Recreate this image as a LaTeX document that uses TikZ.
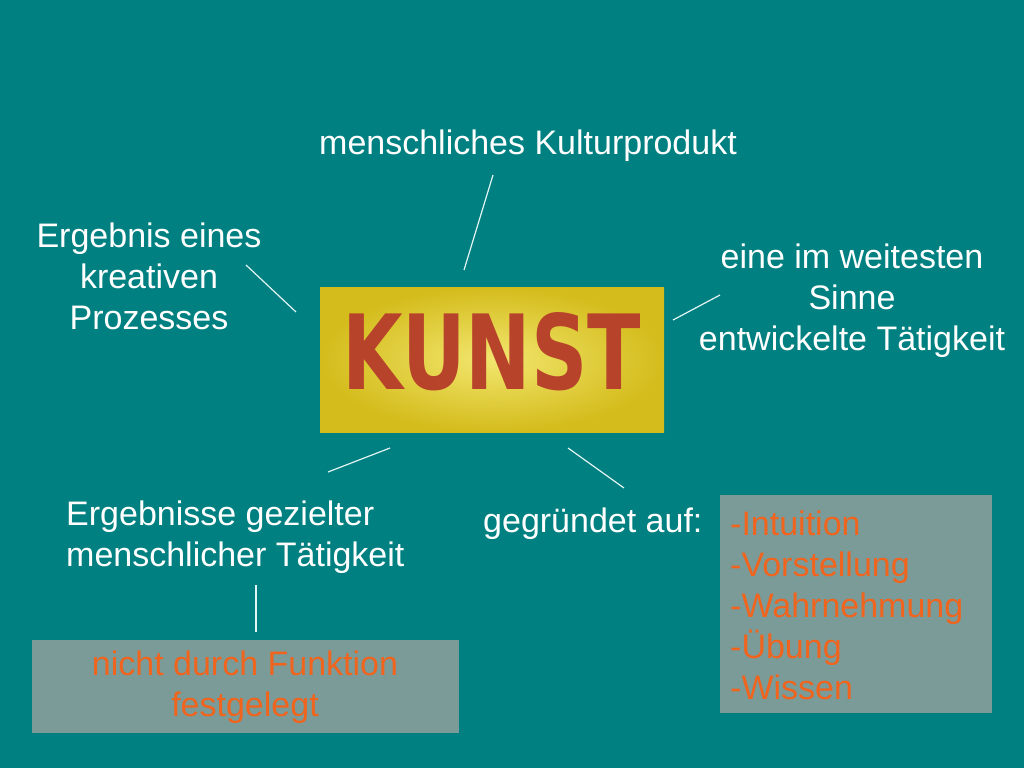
\documentclass[tikz,border=0pt]{standalone}
\usepackage{fontspec}
\setmainfont{Liberation Sans}
\newfontfamily\kunstfont{DejaVu Sans}
\definecolor{bgteal}{HTML}{008080}
\definecolor{boxgray}{HTML}{7B9B98}
\definecolor{orangetxt}{HTML}{F0641E}
\definecolor{brick}{HTML}{B8432B}
\definecolor{goldout}{HTML}{D4BC1C}
\definecolor{goldin}{HTML}{F2E66E}
\definecolor{linecol}{HTML}{E4F4F4}
\begin{document}
\begin{tikzpicture}[x=1pt,y=-1pt,
  lbl/.style={inner sep=0pt,text=white,font=\fontsize{34}{41}\selectfont},
  olbl/.style={inner sep=0pt,text=orangetxt,font=\fontsize{34}{41}\selectfont},
  graybox/.style={fill=boxgray,draw=none,inner sep=0pt,anchor=north west},
  spoke/.style={draw=linecol,line width=1.2pt}]
\fill[bgteal] (0,0) rectangle (1024,768);
\useasboundingbox (0,0) rectangle (1024,768);
% central box
\shade[inner color=goldin,outer color=goldout] (320,287) rectangle (664,432);
\coordinate (kunstc) at (492,352);
\node[inner sep=0pt,text=brick] (kunst) at (kunstc) {\resizebox{298pt}{77pt}{\kunstfont\bfseries KUNST}};
% gray boxes
\node[graybox,minimum width=427pt,minimum height=93pt] (boxl) at (32,640) {};
\node[graybox,minimum width=272pt,minimum height=218pt] (boxr) at (720,495) {};
% texts
\node[lbl] (top) at (528,146) {menschliches Kulturprodukt};
\node[lbl,align=center] (left) at (149,276) {Ergebnis eines\\kreativen\\Prozesses};
\node[lbl,align=center] (right) at (852,301) {eine im weitesten\\Sinne\\entwickelte Tätigkeit};
\node[lbl,align=left,anchor=west] (botl) at (66,537) {Ergebnisse gezielter\\menschlicher Tätigkeit};
\node[lbl,anchor=west] (grund) at (483,524) {gegründet auf:};
\node[olbl,align=center] (nicht) at (245,687) {nicht durch Funktion\\festgelegt};
\node[olbl,align=left,anchor=west] (list) at (730,605) {-Intuition\\-Vorstellung\\-Wahrnehmung\\-Übung\\-Wissen};
% spokes
\coordinate (t1) at (493,175); \coordinate (t2) at (464,270);
\coordinate (l1) at (246,265); \coordinate (l2) at (296,312);
\coordinate (r1) at (720,295); \coordinate (r2) at (673,320);
\coordinate (bl1) at (390,448); \coordinate (bl2) at (328,472);
\coordinate (br1) at (568,448); \coordinate (br2) at (624,488);
\coordinate (v1) at (256,585); \coordinate (v2) at (256,632);
\draw[spoke] (t1) -- (t2);
\draw[spoke] (l1) -- (l2);
\draw[spoke] (r1) -- (r2);
\draw[spoke] (bl1) -- (bl2);
\draw[spoke] (br1) -- (br2);
\draw[spoke] (v1) -- (v2);
\end{tikzpicture}
\end{document}
